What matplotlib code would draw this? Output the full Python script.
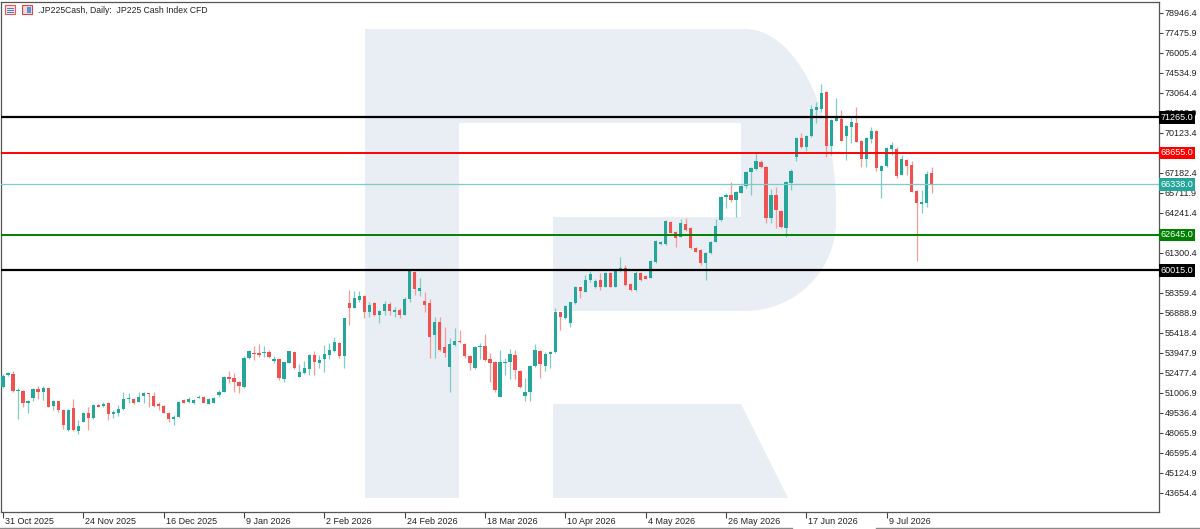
import matplotlib
matplotlib.use("Agg")
import matplotlib.pyplot as plt
import matplotlib.transforms as mtrans
from matplotlib.patches import Polygon, Rectangle
import numpy as np

plt.rcParams['font.family'] = ['Liberation Sans', 'DejaVu Sans']

# ---------------- data ----------------
title = ".JP225Cash, Daily:  JP225 Cash Index CFD"

opens = [
    51480, 52317, 52435, 51163, 51186, 50259, 50627, 51310, 51112, 51362,
    50061, 50406, 49767, 48297, 49892, 48246, 48907, 49569, 49157, 50134,
    50061, 50304, 49451, 49524, 49840, 50553, 50598, 50377, 50818, 50994,
    50818, 50208, 50083, 49569, 49083, 49275, 50502, 50377, 50259, 50649,
    50745, 50208, 50304, 50869, 51112, 52215, 52097, 51847, 51480, 53567,
    53979, 53956, 53934, 54052, 53368, 53493, 52045, 53244, 54008, 52215,
    52464, 52780, 53809, 53199, 53515, 53809, 54103, 54691, 53736, 57609,
    57286, 57852, 58146, 56992, 57609, 56749, 57043, 57558, 56992, 57117,
    56749, 57925, 59888, 58536, 57778, 57609, 55279, 56257, 54375, 52950,
    54544, 54861, 54618, 53758, 52832, 54397, 54493, 53493, 53317, 50745,
    53199, 53273, 53809, 52633, 50818, 51068, 53001, 54126, 53023, 53883,
    54008, 56948, 56507, 56139, 57609, 58785, 58462, 59322, 58830, 59322,
    58830, 59859, 58830, 59983, 60226, 59006, 58587, 59814, 59616, 59491,
    60623, 61968, 61968, 63607, 62872, 62505, 63438, 63122, 61696, 61527,
    60594, 61284, 62137, 63732, 65445, 65569, 65202, 65739, 66253, 67282,
    67458, 68017, 67650, 63857, 65569, 64416, 63122, 66429, 68340, 69737,
    69120, 69906, 71817, 71868, 73162, 69193, 71031, 71133, 69906, 70590,
    70884, 69538, 68215, 69663, 70273, 67356, 67701, 68928, 68928, 67039,
    68142, 67774, 65886, 64908, 65004, 67164]

closes = [
    52266, 52509, 51163, 51237, 50259, 50451, 51288, 51112, 51406, 50010,
    50428, 49767, 48664, 49767, 48297, 48613, 49569, 49157, 50134, 50010,
    50208, 49451, 49598, 49840, 50575, 50649, 50304, 50745, 50994, 50943,
    50061, 50061, 49569, 49083, 49275, 50377, 50304, 50553, 50502, 50745,
    50304, 50575, 50671, 51112, 52215, 52023, 51847, 51531, 53567, 54126,
    53861, 53809, 54008, 53685, 53515, 52097, 53273, 54103, 52832, 52538,
    52832, 53809, 53273, 53442, 53883, 54177, 54743, 53736, 56507, 57242,
    57977, 58168, 56992, 57484, 56749, 57043, 57536, 57043, 57117, 56749,
    57925, 60006, 58638, 58712, 57484, 55155, 56257, 54177, 53934, 54596,
    54838, 54743, 53758, 53199, 54420, 54493, 53442, 53199, 51237, 53317,
    53317, 53861, 52707, 51480, 51068, 53001, 54177, 53126, 53883, 53994,
    56992, 56625, 57433, 57683, 58830, 58513, 59322, 59741, 59271, 58785,
    59859, 58830, 60057, 60182, 58954, 58587, 59814, 59322, 59418, 60718,
    62211, 62137, 63681, 62799, 62431, 63489, 62997, 61652, 61402, 60549,
    61329, 62137, 63291, 65445, 65569, 65202, 65812, 66253, 67282, 67532,
    68091, 67650, 63857, 65569, 64467, 63195, 66547, 67356, 69737, 69075,
    69906, 71868, 72060, 73089, 69193, 71082, 71207, 69561, 70641, 70957,
    69487, 68215, 69737, 70273, 67532, 67701, 69002, 69244, 66988, 68215,
    67701, 65812, 65004, 65077, 67091, 66338]

highs = [
    52413, 52582, 52656, 51347, 51237, 50502, 51384, 51531, 51531, 51384,
    50502, 50428, 49840, 49840, 50553, 49032, 49620, 50010, 50208, 50208,
    50355, 50355, 49767, 50134, 51068, 50994, 50649, 51068, 51112, 51016,
    51112, 50355, 50134, 49620, 49399, 50428, 50575, 50745, 50575, 50869,
    50796, 50649, 50722, 51237, 52266, 52656, 52464, 51898, 53736, 54177,
    54471, 54596, 54493, 54177, 53736, 53515, 53295, 54103, 54030, 53148,
    53368, 53883, 54126, 53809, 54544, 54669, 55155, 54765, 56529, 58587,
    58513, 58513, 58219, 57727, 57727, 57117, 57778, 57727, 57360, 57264,
    58095, 60057, 59983, 59447, 58462, 57925, 56625, 56625, 55890, 55037,
    55772, 55647, 54691, 53809, 54471, 54669, 55331, 53934, 53368, 54177,
    53567, 54250, 54177, 52707, 52097, 53074, 54596, 54177, 54052, 54103,
    57242, 56992, 57484, 57727, 58881, 58830, 59689, 59983, 59359, 59814,
    59910, 59910, 60130, 61035, 60424, 59065, 59983, 59873, 59689, 60792,
    62262, 62188, 63732, 63658, 62923, 63805, 63879, 63181, 61746, 61600,
    61380, 62188, 63805, 65496, 65716, 66547, 65863, 66305, 67333, 67650,
    68752, 68105, 67701, 65988, 66180, 64467, 66598, 67458, 69796, 70149,
    69979, 72184, 72427, 73728, 73214, 71155, 72677, 71817, 70714, 71207,
    72060, 69612, 69796, 70545, 70347, 67774, 69120, 69487, 69120, 68509,
    68215, 68091, 65937, 65937, 67356, 67605]

lows = [
    51384, 52266, 51090, 49083, 49965, 49524, 50451, 50553, 50502, 49987,
    49767, 49642, 48348, 48223, 48223, 48003, 48885, 48297, 49105, 49987,
    49987, 49032, 49179, 49326, 49767, 50259, 50208, 50355, 50259, 49987,
    49987, 49767, 49546, 48907, 48664, 49252, 50281, 50281, 50208, 50612,
    50281, 50171, 50281, 50722, 51068, 51774, 51112, 50994, 51384, 53515,
    53442, 53662, 53640, 53589, 53199, 51972, 51788, 53221, 52780, 52192,
    52413, 52339, 52339, 52876, 52538, 53515, 54030, 53611, 52876, 56014,
    57242, 57727, 56507, 56625, 56676, 56139, 56749, 56749, 56625, 56507,
    56713, 57727, 58219, 58168, 56992, 53567, 53611, 54103, 53685, 51068,
    54471, 54669, 53611, 52707, 52780, 53515, 53368, 51847, 51112, 50686,
    52339, 52045, 52045, 51362, 50428, 50428, 52927, 52097, 52633, 52832,
    53956, 55647, 56455, 55890, 57558, 58021, 58440, 59175, 58712, 58587,
    58771, 58771, 58771, 59910, 58881, 58513, 58513, 59248, 59359, 59432,
    60571, 61894, 61894, 62740, 61770, 62446, 62923, 61600, 61343, 60424,
    59322, 61233, 62078, 63658, 64614, 65077, 63975, 65695, 66084, 65569,
    67407, 67554, 63489, 63489, 63122, 63122, 62505, 65937, 68091, 69024,
    68826, 69832, 70839, 71670, 68385, 68509, 70972, 69502, 68142, 69369,
    69428, 67605, 67605, 69369, 67356, 65327, 67627, 68509, 66797, 67003,
    67039, 65753, 60718, 64224, 64710, 65694]

date_index = [0, 16, 32, 48, 64, 80, 96, 112, 128, 144, 160, 176]
date_labels = ["31 Oct 2025", "24 Nov 2025", "16 Dec 2025", "9 Jan 2026",
               "2 Feb 2026", "24 Feb 2026", "18 Mar 2026", "10 Apr 2026",
               "4 May 2026", "26 May 2026", "17 Jun 2026", "9 Jul 2026"]

price_ticks = [78946.4, 77475.9, 76005.4, 74534.9, 73064.4, 71593.9, 70123.4,
               68652.9, 67182.4, 65711.9, 64241.4, 62770.9, 61300.4, 59829.9,
               58359.4, 56888.9, 55418.4, 53947.9, 52477.4, 51006.9, 49536.4,
               48065.9, 46595.4, 45124.9, 43654.4]
# tick labels that the level boxes fully cover in the reference are left blank
price_tick_labels = ["78946.4", "77475.9", "76005.4", "74534.9", "73064.4", "71593.9",
                     "70123.4", "", "67182.4", "65711.9", "64241.4", "", "61300.4", "",
                     "58359.4", "56888.9", "55418.4", "53947.9", "52477.4", "51006.9",
                     "49536.4", "48065.9", "46595.4", "45124.9", "43654.4"]

level_values = [71265.0, 68655.0, 66338.0, 62645.0, 60015.0]
level_line_colors = ['#000000', '#ff0000', '#80cbc4', '#008000', '#000000']
level_box_colors = ['#000000', '#ff0000', '#26a69a', '#008000', '#000000']
level_widths = [1.6, 1.4, 0.9, 1.4, 1.6]

# ---------------- figure ----------------
W, H = 1200, 529
fig = plt.figure(figsize=(W / 100, H / 100), dpi=100)
fig.patch.set_facecolor('white')

# background layer in pixel coordinates (watermark logo, icons, title)
bg = fig.add_axes([0, 0, 1, 1], zorder=0)
bg.set_xlim(0, W)
bg.set_ylim(H, 0)
bg.axis('off')

logo_col = '#e9edf4'
t = np.linspace(0, np.pi / 2, 40)
top_arc = np.column_stack([745 + 91 * np.sin(t), 209 - 180 * np.cos(t)])
t2 = np.linspace(np.pi / 2, np.pi, 40)
bot_arc = np.column_stack([745 + 91 * np.sin(t2), 221 - 90 * np.cos(t2)])
verts = [(365, 29)] + [tuple(p) for p in top_arc] + [tuple(p) for p in bot_arc] + \
    [(553, 311), (553, 217), (741, 217), (741, 123), (459, 123), (459, 498), (365, 498)]
bg.add_patch(Polygon(verts, closed=True, facecolor=logo_col, edgecolor='none'))
bg.add_patch(Polygon([(553, 404), (741, 404), (788, 498), (553, 498)], closed=True,
                     facecolor=logo_col, edgecolor='none'))

# small icons in the header
bg.add_patch(Rectangle((5, 5), 10, 9, facecolor='#fbe3e3', edgecolor='#e05a5a', lw=0.8))
for yy in (7.5, 9.5, 11.5):
    bg.plot([7, 13], [yy, yy], color='#4a78c8', lw=0.7)
bg.add_patch(Rectangle((22, 5), 10, 9, facecolor='#f6d7d7', edgecolor='#d04848', lw=0.8))
bg.add_patch(Rectangle((27, 7), 4, 6, facecolor='#5b8fd8', edgecolor='none'))
bg.text(38, 10.5, title, fontsize=6.2, color='#222222', va='center', ha='left')

# bottom window line
bg.plot([0, 792], [527.5, 527.5], color='#8a8a8a', lw=1.0)
bg.plot([876, 1200], [527.5, 527.5], color='#8a8a8a', lw=1.0)

# ---------------- main chart ----------------
x_left_px, x_right_px = 0.5, 1159.0
y_top_px, y_bot_px = 2.0, 512.0
ax = fig.add_axes([x_left_px / W, (H - y_bot_px) / H,
                   (x_right_px - x_left_px) / W, (y_bot_px - y_top_px) / H], zorder=1)
ax.patch.set_alpha(0)

bar_step = 5.02
ax.set_xlim((x_left_px - 3) / bar_step, (x_right_px - 3) / bar_step)
ppx = 73.525
ax.set_ylim(78946.4 - (y_bot_px - 13) * ppx, 78946.4 + (13 - y_top_px) * ppx)

o = np.array(opens, float)
c = np.array(closes, float)
hi = np.array(highs, float)
lo = np.array(lows, float)
idx = np.arange(len(o))
up = c >= o
green, red = '#26a69a', '#ef5350'
body_cols = np.where(up, green, red)
wick_cols = np.where(up, '#7fcdc4', '#f49c9a')

ax.vlines(idx, lo, hi, colors=wick_cols, linewidth=0.9, zorder=2)
bottoms = np.minimum(o, c)
heights = np.maximum(np.abs(c - o), 70)
ax.bar(idx, heights, bottom=bottoms, width=0.66, color=body_cols, linewidth=0, zorder=3)

# horizontal levels
for v, lc, lw in zip(level_values, level_line_colors, level_widths):
    ax.axhline(v, color=lc, lw=lw, zorder=4)

# right price axis
ax.yaxis.tick_right()
ax.set_yticks(price_ticks)
ax.set_yticklabels(price_tick_labels)
ax.tick_params(axis='y', labelsize=6.5, length=3, width=0.8, color='#444444',
               labelcolor='#222222', pad=1.2)

# level boxes
box_tr = mtrans.blended_transform_factory(ax.transAxes, ax.transData)
for v, bc in zip(level_values, level_box_colors):
    ax.text(1.0016, v, f"{v:.1f}", transform=box_tr, fontsize=6.5, color='white',
            ha='left', va='center', clip_on=False, zorder=10,
            bbox=dict(boxstyle='square,pad=0.18', facecolor=bc, edgecolor='none'))

# date axis
ax.set_xticks(date_index)
ax.set_xticklabels([])
ax.tick_params(axis='x', length=4, width=0.8, color='#444444')
xt = mtrans.blended_transform_factory(ax.transData, ax.transAxes)
off = mtrans.ScaledTranslation(2 / 100, 0, fig.dpi_scale_trans)
for i, lab in zip(date_index, date_labels):
    ax.text(i, -9.5 / (y_bot_px - y_top_px), lab, transform=xt + off, fontsize=6.5,
            color='#222222', ha='left', va='center', clip_on=False)

for s in ax.spines.values():
    s.set_color('#555555')
    s.set_linewidth(0.9)

fig.savefig("out.png", dpi=100, facecolor='white')
